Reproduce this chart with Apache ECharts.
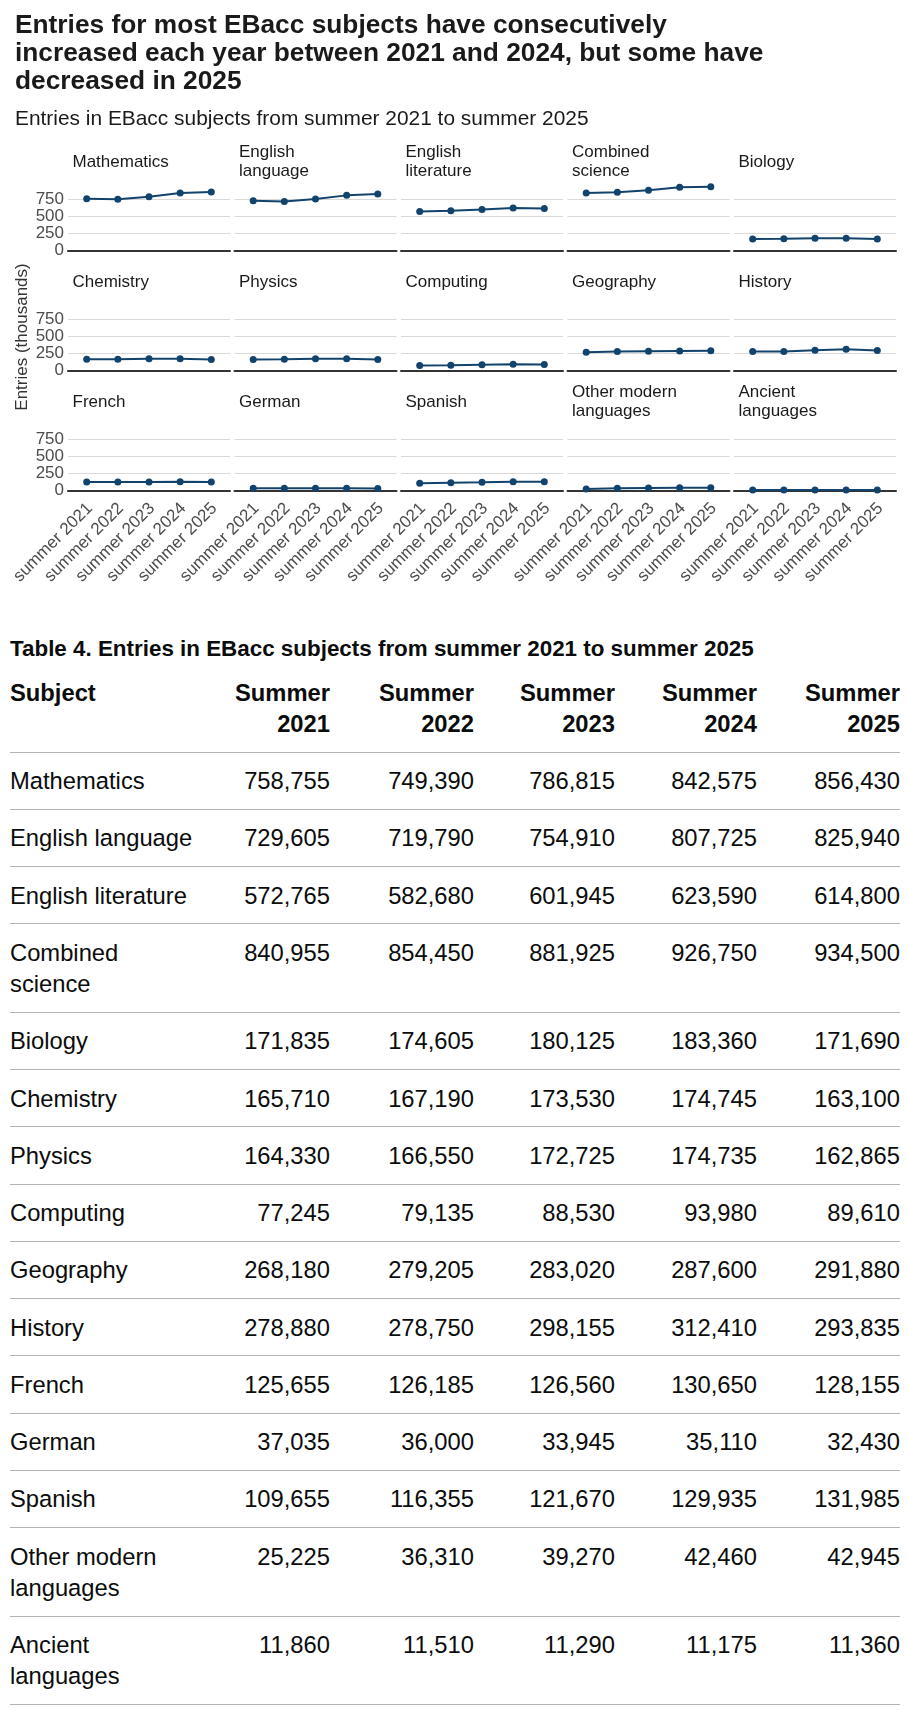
<!DOCTYPE html>
<html>
<head>
<meta charset="utf-8">
<script src="https://cdn.jsdelivr.net/npm/echarts@6/dist/echarts.min.js"></script>
<style>
  html, body { margin: 0; padding: 0; background: #fff; }
  #chart { position: absolute; left: 0; top: 0; width: 908px; height: 620px; }
  #tblwrap { position: absolute; left: 10px; top: 636px; width: 890px;
    font-family: "Liberation Sans", Arial, sans-serif; color: #0b0c0c; }
  .cap { font-weight: bold; font-size: 22.4px; line-height: 25px; height: 25px; margin-bottom: 3px; white-space: nowrap; }
  table { border-collapse: collapse; table-layout: fixed; width: 890px; }
  th, td { font-size: 23.75px; line-height: 31.25px; padding: 12.5px 25px 12.5px 0;
    border-bottom: 1.25px solid #b1b4b6; vertical-align: top; text-align: right; }
  th { font-weight: bold; }
  th:first-child, td:first-child { text-align: left; padding-right: 12px; }
  th:last-child, td:last-child { padding-right: 0; }
</style>
</head>
<body>
<div id="chart"></div>
<div id="tblwrap">
  <div class="cap" id="cap"></div>
  <table id="tbl"></table>
</div>
<script>
// ---- Data ----
const chartTitle = "Entries for most EBacc subjects have consecutively\nincreased each year between 2021 and 2024, but some have\ndecreased in 2025";
const chartSubtitle = "Entries in EBacc subjects from summer 2021 to summer 2025";
const yAxisTitle = "Entries (thousands)";
const tableCaption = "Table 4. Entries in EBacc subjects from summer 2021 to summer 2025";
const years = ["summer 2021", "summer 2022", "summer 2023", "summer 2024", "summer 2025"];
const tableHeaders = ["Subject", "Summer 2021", "Summer 2022", "Summer 2023", "Summer 2024", "Summer 2025"];

const subjects = ["Mathematics", "English language", "English literature", "Combined science", "Biology",
  "Chemistry", "Physics", "Computing", "Geography", "History",
  "French", "German", "Spanish", "Other modern languages", "Ancient languages"];

const mathematics        = [758755, 749390, 786815, 842575, 856430];
const englishLanguage    = [729605, 719790, 754910, 807725, 825940];
const englishLiterature  = [572765, 582680, 601945, 623590, 614800];
const combinedScience    = [840955, 854450, 881925, 926750, 934500];
const biology            = [171835, 174605, 180125, 183360, 171690];
const chemistry          = [165710, 167190, 173530, 174745, 163100];
const physics            = [164330, 166550, 172725, 174735, 162865];
const computing          = [77245, 79135, 88530, 93980, 89610];
const geography          = [268180, 279205, 283020, 287600, 291880];
const history            = [278880, 278750, 298155, 312410, 293835];
const french             = [125655, 126185, 126560, 130650, 128155];
const german             = [37035, 36000, 33945, 35110, 32430];
const spanish            = [109655, 116355, 121670, 129935, 131985];
const otherModern        = [25225, 36310, 39270, 42460, 42945];
const ancientLanguages   = [11860, 11510, 11290, 11175, 11360];

const entries = [mathematics, englishLanguage, englishLiterature, combinedScience, biology,
  chemistry, physics, computing, geography, history,
  french, german, spanish, otherModern, ancientLanguages];

// ---- Layout ----
const FONT = '"Liberation Sans", Arial, sans-serif';
const BLUE = '#12436D';
const panelLeft0 = 68, panelStep = 166.5, panelW = 162;
const panelTop0 = 182.2, rowStep = 120, panelH = 68.5;
const labelShift = 0.1;

function wrap(s, w) {
  const words = s.split(' ');
  const lines = []; let cur = '';
  for (const wd of words) {
    if (cur && (cur + ' ' + wd).length > w) { lines.push(cur); cur = wd; }
    else cur = cur ? cur + ' ' + wd : wd;
  }
  if (cur) lines.push(cur);
  return lines.join('\n');
}

const grids = [], xAxes = [], yAxes = [], series = [], graphics = [];
subjects.forEach((name, i) => {
  const r = Math.floor(i / 5), c = i % 5;
  const left = panelLeft0 + c * panelStep, top = panelTop0 + r * rowStep;
  grids.push({ left: left, top: top, width: panelW, height: panelH });
  xAxes.push({
    gridIndex: i, type: 'value', min: -0.6, max: 4.6,
    splitLine: { show: false }, axisTick: { show: false },
    axisLine: { show: true, onZero: false, lineStyle: { color: '#333333', width: 2 } },
    axisLabel: r === 2 ? {
      show: true, customValues: years.map((y, j) => j + labelShift), rotate: 45, margin: 15,
      formatter: v => years[Math.round(v)], fontSize: 17, color: '#4d4d4d', fontFamily: FONT
    } : { show: false }
  });
  yAxes.push({
    gridIndex: i, type: 'value', min: 0, max: 1000, interval: 250,
    axisLine: { show: false }, axisTick: { show: false },
    splitLine: { show: true, showMaxLine: false, lineStyle: { color: '#d9d9d9', width: 1 } },
    axisLabel: c === 0 ? {
      show: true, showMaxLabel: false, margin: 4, fontSize: 17, color: '#4d4d4d', fontFamily: FONT
    } : { show: false }
  });
  series.push({
    type: 'line', xAxisIndex: i, yAxisIndex: i, name: name,
    data: entries[i].map((v, j) => [j, v / 1000]),
    symbol: 'circle', symbolSize: 7, clip: false, silent: true,
    lineStyle: { color: BLUE, width: 2 }, itemStyle: { color: BLUE }
  });
  graphics.push({
    type: 'text', x: left + 4.5, y: 162 + r * rowStep,
    style: { text: wrap(name, 14), fontSize: 17, lineHeight: 18.5, fill: '#1a1a1a',
      fontFamily: FONT, textVerticalAlign: 'middle', textAlign: 'left' }
  });
});
graphics.push({
  type: 'text', x: 22, y: 337, rotation: Math.PI / 2,
  style: { text: yAxisTitle, fontSize: 17, fill: '#333333', fontFamily: FONT,
    textAlign: 'center', textVerticalAlign: 'middle' }
});

const chart = echarts.init(document.getElementById('chart'), null, { renderer: 'canvas' });
chart.setOption({
  animation: false,
  backgroundColor: '#ffffff',
  title: [
    { text: chartTitle, left: 15, top: 12, padding: 0,
      textStyle: { fontSize: 26.3, fontWeight: 'bold', lineHeight: 28, color: '#1a1a1a', fontFamily: FONT } },
    { text: chartSubtitle, left: 15, top: 107, padding: 0,
      textStyle: { fontSize: 20.9, fontWeight: 'normal', lineHeight: 24, color: '#1a1a1a', fontFamily: FONT } }
  ],
  grid: grids, xAxis: xAxes, yAxis: yAxes, series: series, graphic: graphics
});

// ---- Table ----
document.getElementById('cap').textContent = tableCaption;
const tbl = document.getElementById('tbl');
const widths = [203, 142, 144, 141, 142, 118];
const cg = document.createElement('colgroup');
widths.forEach(w => { const col = document.createElement('col'); col.style.width = w + 'px'; cg.appendChild(col); });
tbl.appendChild(cg);
const thead = document.createElement('tr');
tableHeaders.forEach(h => { const th = document.createElement('th'); th.textContent = h; thead.appendChild(th); });
tbl.appendChild(thead);
subjects.forEach((name, i) => {
  const tr = document.createElement('tr');
  const td0 = document.createElement('td'); td0.textContent = name; tr.appendChild(td0);
  entries[i].forEach(v => { const td = document.createElement('td'); td.textContent = v.toLocaleString('en-GB'); tr.appendChild(td); });
  tbl.appendChild(tr);
});
</script>
</body>
</html>
